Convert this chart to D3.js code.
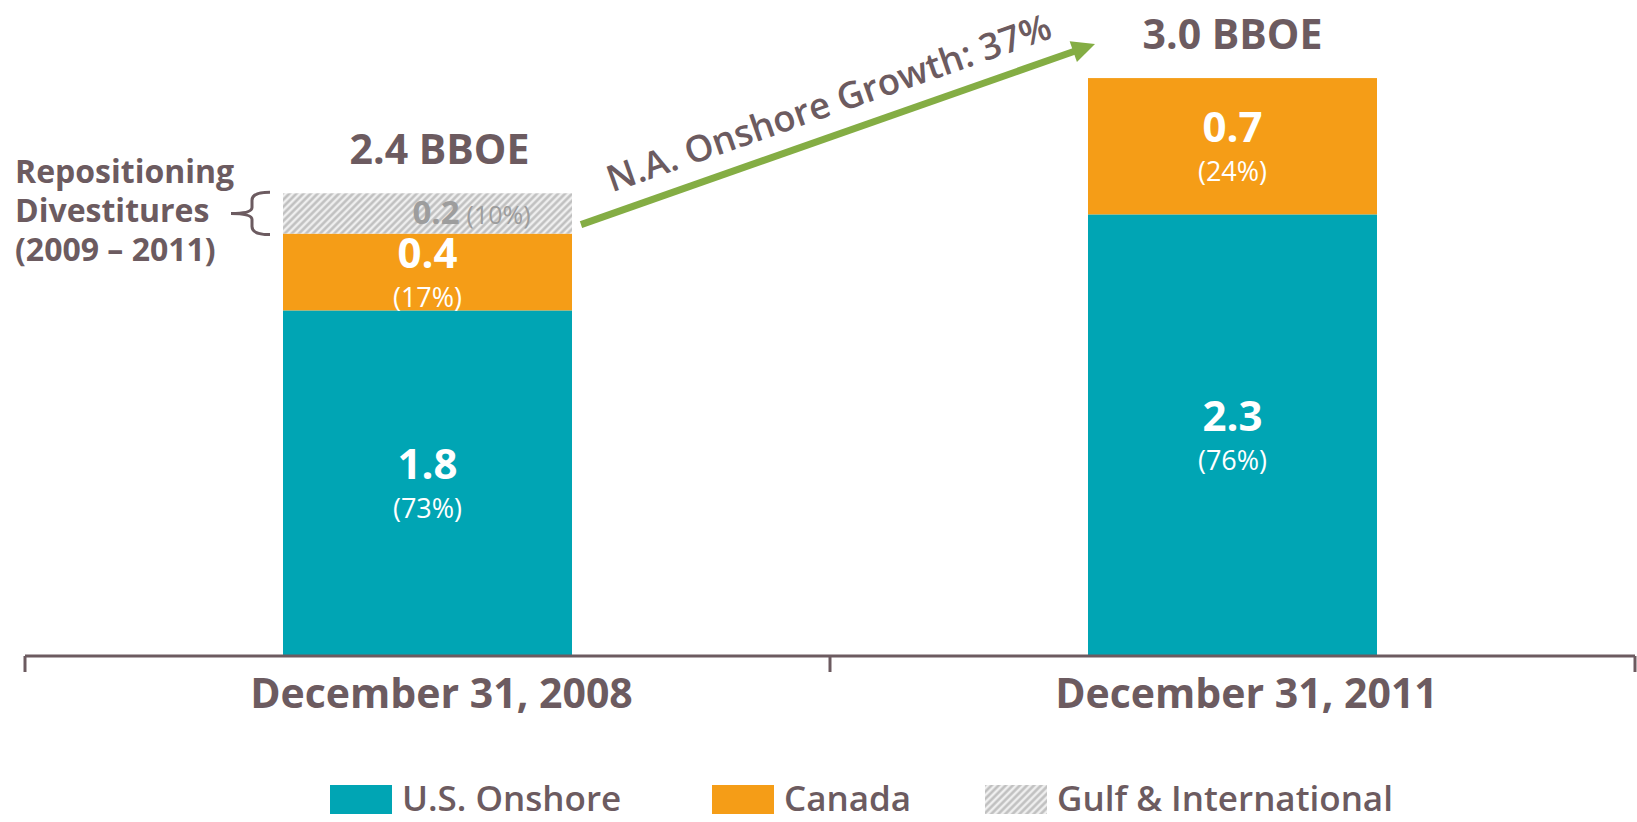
<!DOCTYPE html>
<html lang="en">
<head>
<meta charset="utf-8">
<title>Reserves by region</title>
<script src="https://cdn.jsdelivr.net/npm/d3@7"></script>
<style>
  body { margin: 0; background: #fff; }
  text { font-family: "Open Sans", "Noto Sans", sans-serif; }
</style>
</head>
<body>
<script>
// data (BBOE)
var categories = ["December 31, 2008", "December 31, 2011"];
var usOnshore = [1.8, 2.3];
var canada = [0.4, 0.71];
var gulfIntl = [0.21, 0];
var usShare = ["(73%)", "(76%)"];
var canadaShare = ["(17%)", "(24%)"];
var gulfShare = ["(10%)", ""];
var totals = ["2.4 BBOE", "3.0 BBOE"];
var seriesNames = ["U.S. Onshore", "Canada", "Gulf & International"];
var growthLabel = "N.A. Onshore Growth: 37%";
var divestLabel = ["Repositioning", "Divestitures", "(2009 \u2013 2011)"];

var w = 1637, h = 822;
var ink = "#6c5b60";
var colors = {"U.S. Onshore": "#00a5b4", "Canada": "#f59d17", "Gulf & International": "url(#hatch)"};

var rows = categories.map(function(c, i) {
  return {cat: c, "U.S. Onshore": usOnshore[i], "Canada": canada[i], "Gulf & International": gulfIntl[i], i: i};
});
var shares = {"U.S. Onshore": usShare, "Canada": canadaShare, "Gulf & International": gulfShare};

var svg = d3.select("body").append("svg").attr("width", w).attr("height", h);

var defs = svg.append("defs");
var pat = defs.append("pattern").attr("id", "hatch")
  .attr("patternUnits", "userSpaceOnUse").attr("width", 5).attr("height", 5)
  .attr("patternTransform", "rotate(45)");
pat.append("rect").attr("width", 5).attr("height", 5).attr("fill", "#efefef");
pat.append("line").attr("x1", 1.5).attr("y1", 0).attr("x2", 1.5).attr("y2", 5)
  .attr("stroke", "#bdbdbd").attr("stroke-width", 2.4);

var x = d3.scaleBand().domain(categories).range([25, 1635]);
var y = d3.scaleLinear().domain([0, 3]).range([656, 80]);
var barW = 289;

var stack = d3.stack().keys(seriesNames);
var layers = stack(rows);

var g = svg.append("g");
layers.forEach(function(layer) {
  g.selectAll(null).data(layer.filter(function(d) { return d[1] - d[0] > 0; }))
    .enter().append("rect")
    .attr("x", function(d) { return x(d.data.cat) + x.bandwidth() / 2 - barW / 2; })
    .attr("y", function(d) { return y(d[1]); })
    .attr("width", barW)
    .attr("height", function(d) { return y(d[0]) - y(d[1]); })
    .attr("fill", colors[layer.key]);
});

// segment labels
var fmt = d3.format(".1f");
layers.forEach(function(layer) {
  layer.forEach(function(d) {
    if (d[1] - d[0] <= 0) return;
    var cx = x(d.data.cat) + x.bandwidth() / 2;
    var mid = (y(d[0]) + y(d[1])) / 2;
    var share = shares[layer.key][d.data.i];
    if (layer.key === "Gulf & International") {
      var t = g.append("text").attr("x", cx + 44).attr("y", mid + 11)
        .attr("text-anchor", "middle").attr("fill", "#9d9d9d");
      t.append("tspan").attr("font-size", 33).attr("font-weight", 700).text(fmt(d[1] - d[0]));
      t.append("tspan").attr("font-size", 25).attr("dx", 7).text(share);
    } else {
      g.append("text").attr("x", cx).attr("y", mid - 4)
        .attr("text-anchor", "middle").attr("fill", "#fff")
        .attr("font-size", 42).attr("font-weight", 700).text(fmt(d[1] - d[0]));
      g.append("text").attr("x", cx).attr("y", mid + 35)
        .attr("text-anchor", "middle").attr("fill", "#fff")
        .attr("font-size", 27).text(share);
    }
  });
});

// totals above bars
rows.forEach(function(r, i) {
  var top = y(usOnshore[i] + canada[i] + gulfIntl[i]);
  g.append("text").attr("x", x(r.cat) + x.bandwidth() / 2 + (i === 0 ? 12 : 0)).attr("y", top - 29)
    .attr("text-anchor", "middle").attr("fill", ink)
    .attr("font-size", 41).attr("font-weight", 700).text(totals[i]);
});

// axis
var ax = svg.append("g");
ax.append("line").attr("x1", x.range()[0]).attr("x2", x.range()[1])
  .attr("y1", y(0)).attr("y2", y(0)).attr("stroke", ink).attr("stroke-width", 3);
var edges = categories.map(function(c) { return x(c); }).concat([x.range()[1]]);
ax.selectAll(".tk").data(edges).enter().append("line")
  .attr("x1", function(d) { return d; }).attr("x2", function(d) { return d; })
  .attr("y1", y(0)).attr("y2", y(0) + 16)
  .attr("stroke", ink).attr("stroke-width", 3);
ax.selectAll(".lbl").data(categories).enter().append("text")
  .attr("x", function(d) { return x(d) + x.bandwidth() / 2 + 14; })
  .attr("y", y(0) + 52)
  .attr("text-anchor", "middle").attr("fill", ink)
  .attr("font-size", 41).attr("font-weight", 700).text(function(d) { return d; });

// growth arrow
var x0 = x(categories[0]) + x.bandwidth() / 2 + barW / 2 + 9;
var y0 = y(usOnshore[0] + canada[0]) - 9;
var x1 = x(categories[1]) + x.bandwidth() / 2 - barW / 2 + 7;
var y1 = y(usOnshore[1] + canada[1]) - 34;
var len = Math.hypot(x1 - x0, y1 - y0);
var ux = (x1 - x0) / len, uy = (y1 - y0) / len;
var nx = -uy, ny = ux;
var headL = 23, headW = 11;
var bx = x1 - ux * headL, by = y1 - uy * headL;
svg.append("line").attr("x1", x0).attr("y1", y0).attr("x2", bx + ux * 2).attr("y2", by + uy * 2)
  .attr("stroke", "#84ad44").attr("stroke-width", 7);
svg.append("path")
  .attr("d", "M" + x1 + "," + y1 + "L" + (bx + nx * headW) + "," + (by + ny * headW) +
    "L" + (bx - nx * headW) + "," + (by - ny * headW) + "Z")
  .attr("fill", "#84ad44");
var ang = Math.atan2(y1 - y0, x1 - x0) * 180 / Math.PI;
var tx = x0 + ux * 40 - nx * 20, ty = y0 + uy * 40 - ny * 20;
svg.append("text").attr("transform", "translate(" + tx + "," + ty + ") rotate(" + ang + ")")
  .attr("fill", ink).attr("font-size", 36.5).attr("font-weight", 600).text(growthLabel);

// divestitures note with brace
var dl = svg.append("g");
divestLabel.forEach(function(s, i) {
  dl.append("text").attr("x", 15).attr("y", 183 + i * 39)
    .attr("fill", ink).attr("font-size", 32).attr("font-weight", 700).text(s);
});
var bTop = y(usOnshore[0] + canada[0] + gulfIntl[0]) - 1, bBot = y(usOnshore[0] + canada[0]) + 1;
var bMid = (bTop + bBot) / 2;
dl.append("path")
  .attr("d", "M270," + bTop + " Q252," + bTop + " 252," + (bTop + 8) + " L252," + (bMid - 6) +
    " Q252," + bMid + " 231," + bMid + " Q252," + bMid + " 252," + (bMid + 6) +
    " L252," + (bBot - 8) + " Q252," + bBot + " 270," + bBot)
  .attr("fill", "none").attr("stroke", ink).attr("stroke-width", 3);

// legend
var legX = [330, 712, 985];
var leg = svg.append("g");
seriesNames.forEach(function(s, i) {
  leg.append("rect").attr("x", legX[i]).attr("y", 785).attr("width", 62).attr("height", 29)
    .attr("fill", colors[s]);
  leg.append("text").attr("x", legX[i] + 72).attr("y", 811)
    .attr("fill", ink).attr("font-size", 35).attr("font-weight", 600).text(s);
});
</script>
</body>
</html>
